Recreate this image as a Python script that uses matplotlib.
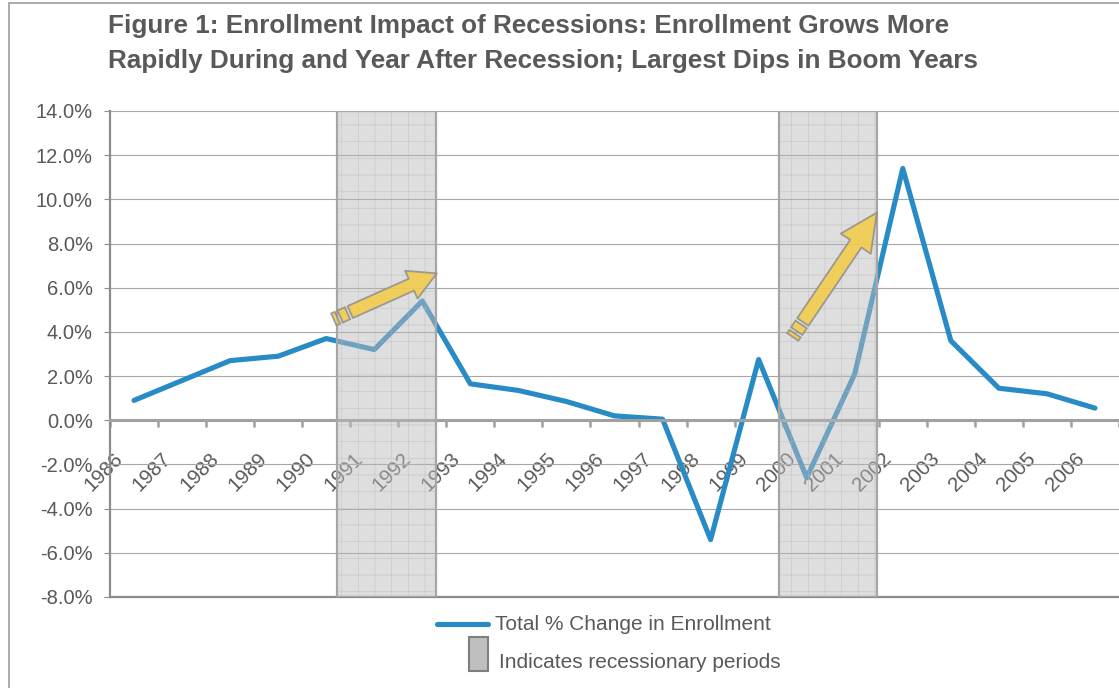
import numpy as np
import matplotlib
matplotlib.use("agg")
import matplotlib.pyplot as plt
from matplotlib.patches import FancyArrowPatch, Polygon, Rectangle
from matplotlib.lines import Line2D
from matplotlib.transforms import ScaledTranslation

plt.rcParams["font.family"] = ["Liberation Sans", "DejaVu Sans"]
plt.rcParams["hatch.linewidth"] = 0.5

# data
years = [str(y) for y in range(1986, 2007)]
pct_change = [0.9, 1.8, 2.7, 2.9, 3.7, 3.2, 5.4, 1.65, 1.35, 0.85, 0.2,
              0.05, -5.4, 2.75, -2.6, 2.1, 11.4, 3.6, 1.45, 1.2, 0.55]
# recession bands, in category units (0 = 1986)
rec_start = [4.22, 13.42]
rec_end = [6.28, 15.46]
# arrows: (tail x, tail y) -> (tip x, tip y)
arrow_tail = [(4.50, 4.9), (13.92, 4.45)]
arrow_tip = [(6.30, 6.65), (15.46, 9.4)]
arrow_size = [(9.4, 22.0, 20.0), (9.8, 26.0, 27.0)]  # tail w, head w, head len (pt)

yticks = np.arange(-8, 15, 2)
grey_txt = "#595959"
blue = "#298bc5"

W, H = 1119, 688
fig = plt.figure(figsize=(W / 100, H / 100), dpi=100)
ax = fig.add_axes([110 / W, 1 - 597 / H, 1 - 110 / W, (597 - 111) / H])

x = np.arange(len(years))
ax.plot(x, pct_change, color=blue, lw=3.7, solid_joinstyle="round",
        solid_capstyle="round", zorder=2)

ax.set_xlim(-0.5, len(years) - 0.5)
ax.set_ylim(-8, 14)

# axes styling
ax.set_yticks(yticks)
ax.set_yticklabels([f"{v:.1f}%" for v in yticks], fontsize=14.5, color=grey_txt)
ax.yaxis.grid(True, color="#a6a6a6", lw=0.8, zorder=0)
ax.tick_params(axis="y", length=4.5, width=0.8, color="#8c8c8c", pad=8)
ax.set_xticks(np.arange(-0.5, len(years), 1))
ax.set_xticklabels([])
ax.tick_params(axis="x", direction="out", length=5, width=1.8, color="#a0a0a0")
for s in ["top", "right"]:
    ax.spines[s].set_visible(False)
ax.spines["bottom"].set_position(("data", 0))
ax.spines["bottom"].set_color("#a0a0a0")
ax.spines["bottom"].set_linewidth(2.2)
ax.spines["bottom"].set_zorder(2.5)
ax.spines["left"].set_color("#8c8c8c")
ax.spines["left"].set_linewidth(1.6)
ax.axhline(-8, color="#8c8c8c", lw=1.6, clip_on=False, zorder=2)

# category labels, rotated, hanging below the zero line
off = ScaledTranslation(-10 / 100, -39 / 100, fig.dpi_scale_trans)
for i, lab in enumerate(years):
    ax.text(i, 0, lab, transform=ax.transData + off, rotation=45,
            rotation_mode="anchor", ha="right", va="baseline",
            fontsize=14.8, color=grey_txt, zorder=1, clip_on=False)

# recession bands
for a, b in zip(rec_start, rec_end):
    ax.axvspan(a, b, facecolor="#bababa", alpha=0.48, hatch="+",
               edgecolor="#b4b4b4", linewidth=0, zorder=3)
    ax.axvspan(a, b, fill=False, edgecolor="#a6a6a6", lw=1.6, zorder=3.5)

# block arrows with broken tails
for (t0, t1), (sw, hw, hl) in zip(zip(arrow_tail, arrow_tip), arrow_size):
    arr = FancyArrowPatch(t0, t1, mutation_scale=1, shrinkA=0, shrinkB=0,
                          arrowstyle=f"simple,head_length={hl},head_width={hw},tail_width={sw}",
                          facecolor="#f5cb40", edgecolor="#8c8c8c", lw=1.3,
                          alpha=0.82, zorder=4)
    ax.add_patch(arr)
    p0 = ax.transData.transform(t0)
    p1 = ax.transData.transform(t1)
    u = (p1 - p0) / np.hypot(*(p1 - p0))
    n = np.array([-u[1], u[0]])
    wpx = sw / 72 * 100
    for da, db in [(3, 11), (14, 18)]:
        c = [p0 - u * da + n * wpx / 2, p0 - u * db + n * wpx / 2,
             p0 - u * db - n * wpx / 2, p0 - u * da - n * wpx / 2]
        c = ax.transData.inverted().transform(np.array(c))
        ax.add_patch(Polygon(c, closed=True, facecolor="#f5cb40",
                             edgecolor="#8c8c8c", lw=1.3, alpha=0.82, zorder=4))

# title
fig.text(108 / W, 1 - 33 / H, "Figure 1: Enrollment Impact of Recessions: Enrollment Grows More",
         fontsize=18.8, fontweight="bold", color=grey_txt, va="baseline")
fig.text(108 / W, 1 - 68 / H, "Rapidly During and Year After Recession; Largest Dips in Boom Years",
         fontsize=18.8, fontweight="bold", color=grey_txt, va="baseline")

# legend, drawn by hand
fig.add_artist(Line2D([437 / W, 488 / W], [1 - 624 / H, 1 - 624 / H], color=blue,
                      lw=3.7, solid_capstyle="round"))
fig.text(495 / W, 1 - 624 / H, "Total % Change in Enrollment", fontsize=15,
         color=grey_txt, va="center")
fig.add_artist(Rectangle((469 / W, 1 - 671 / H), 19 / W, 34 / H, facecolor="#bfbfbf",
                         edgecolor="#7f7f7f", lw=1.5, transform=fig.transFigure))
fig.text(499 / W, 1 - 662 / H, "Indicates recessionary periods", fontsize=15,
         color=grey_txt, va="center")

# outer chart border
fig.add_artist(Rectangle((9 / W, -0.1), 1.2, 1.1 - 3 / H, fill=False,
                         edgecolor="#a6a6a6", lw=1.3, transform=fig.transFigure))

fig.savefig("out.png", dpi=100)
